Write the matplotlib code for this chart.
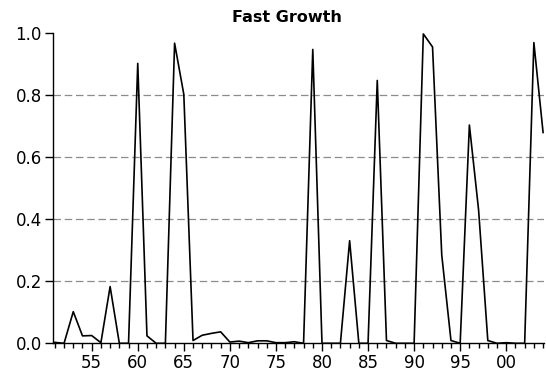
import matplotlib
matplotlib.use("Agg")
import matplotlib.pyplot as plt
from matplotlib.ticker import MultipleLocator, FixedLocator

years = list(range(1951, 2005))
values = [0.003, 0.0, 0.102, 0.024, 0.025, 0.002, 0.183, 0.0, 0.0, 0.903,
          0.024, 0.0, 0.0, 0.968, 0.803, 0.009, 0.026, 0.032, 0.037, 0.004,
          0.007, 0.002, 0.008, 0.008, 0.002, 0.002, 0.005, 0.0, 0.948, 0.0,
          0.0, 0.0, 0.331, 0.0, 0.0, 0.848, 0.009, 0.0, 0.0, 0.0,
          0.998, 0.956, 0.285, 0.009, 0.0, 0.704, 0.43, 0.009, 0.0, 0.002,
          0.0, 0.0, 0.97, 0.68]
major_ticks = [1955, 1960, 1965, 1970, 1975, 1980, 1985, 1990, 1995, 2000]
major_labels = ["55", "60", "65", "70", "75", "80", "85", "90", "95", "00"]
y_ticks = [0.0, 0.2, 0.4, 0.6, 0.8, 1.0]
y_labels = ["0.0", "0.2", "0.4", "0.6", "0.8", "1.0"]
title = "Fast Growth"

plt.rcParams['font.family'] = ['DejaVu Sans']

fig = plt.figure(figsize=(5.46, 3.78), dpi=100)
ax = fig.add_axes([53/546, (378-343.3)/378, (544-53)/546, (343.3-33.3)/378])

for g in [0.2, 0.4, 0.6, 0.8]:
    ax.axhline(g, color='#8c8c8c', lw=0.9, dashes=(6, 3), zorder=1)

ax.plot(years, values, color='black', lw=1.2, zorder=3)

ax.set_xlim(1950.8, 2004.1)
ax.set_ylim(0.0, 1.0)
ax.xaxis.set_major_locator(FixedLocator(major_ticks))
ax.set_xticklabels(major_labels)
ax.xaxis.set_minor_locator(MultipleLocator(1))
ax.set_yticks(y_ticks)
ax.set_yticklabels(y_labels)

for s in ['top', 'right']:
    ax.spines[s].set_visible(False)
for s in ['left', 'bottom']:
    ax.spines[s].set_linewidth(1.0)
    ax.spines[s].set_color('black')

ax.tick_params(axis='x', which='major', direction='out', length=6, width=1.0,
               labelsize=12, pad=2)
ax.tick_params(axis='x', which='minor', direction='out', length=3.5, width=1.0)
ax.tick_params(axis='y', which='major', direction='out', length=6, width=1.0,
               labelsize=12, pad=2)

ax.set_title(title, fontsize=11.5, fontweight='bold', pad=8, x=0.477)

fig.savefig("out.png", dpi=100)
